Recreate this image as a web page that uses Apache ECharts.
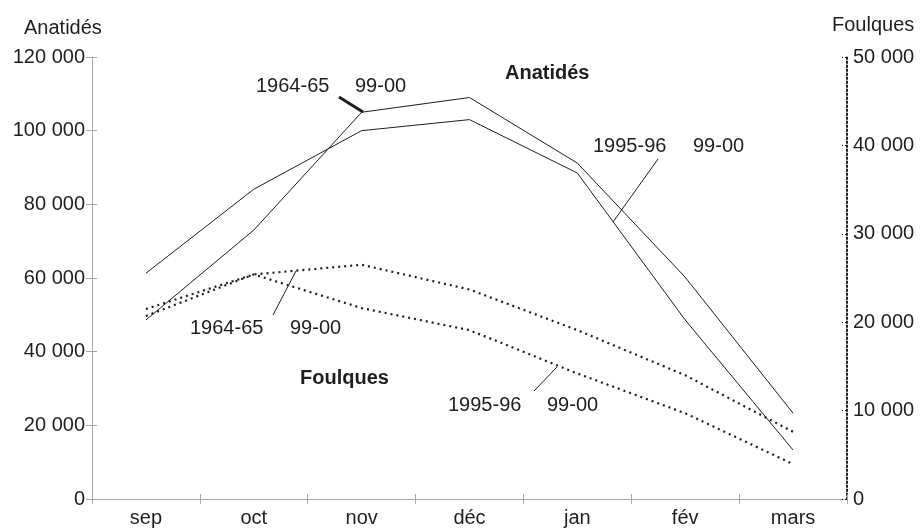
<!DOCTYPE html>
<html>
<head>
<meta charset="utf-8">
<script src="https://cdn.jsdelivr.net/npm/echarts@6/dist/echarts.min.js"></script>
<style>
  body { margin: 0; background: #fff; }
  #chart { width: 922px; height: 531px; }
</style>
</head>
<body>
<div id="chart"></div>
<script>
// mois (saison d'hivernage)
const months = ["sep", "oct", "nov", "déc", "jan", "fév", "mars"];

// Anatidés, axe de gauche
const anat6465 = [48600, 73000, 105000, 109000, 91200, 60200, 23300];
const anat9596 = [61300, 84100, 100000, 103000, 88500, 48600, 13300];

// Foulques, axe de droite
const foul6465 = [21500, 25400, 26500, 23700, 19100, 14000, 7600];
const foul9596 = [20700, 25400, 21600, 19100, 14200, 9700, 3950];

const font = "'Liberation Sans', Arial, sans-serif";
const ink = "#1e1e1e";
const grey = "#a8a8a8";

const fmt = (v) => String(v).replace(/\B(?=(\d{3})+(?!\d))/g, " ");

const chart = echarts.init(document.getElementById("chart"));

function txt(x, y, text, bold) {
  return {
    type: "text",
    x: x,
    y: y,
    style: {
      text: text,
      fill: ink,
      font: (bold ? "bold " : "") + "20px " + font,
      align: "left",
      verticalAlign: "middle",
    },
  };
}

function seg(x1, y1, x2, y2, w) {
  return {
    type: "line",
    shape: { x1: x1, y1: y1, x2: x2, y2: y2 },
    style: { stroke: ink, lineWidth: w || 1 },
  };
}

const option = {
  animation: false,
  backgroundColor: "#fff",
  grid: {
    left: 92,
    right: 75,
    top: 57,
    bottom: 32,
    containLabel: false,
    outerBoundsMode: "none",
  },
  xAxis: [
    {
      type: "category",
      data: months,
      boundaryGap: true,
      position: "bottom",
      axisLine: { onZero: false, lineStyle: { color: grey, width: 1 } },
      axisTick: { show: true, length: 5, lineStyle: { color: grey } },
      axisLabel: { fontSize: 20, color: ink, fontFamily: font, margin: 9 },
      splitLine: { show: false },
    },
    {
      // petits traits vers l'intérieur
      type: "category",
      data: months,
      boundaryGap: true,
      position: "bottom",
      axisLine: { show: false, onZero: false },
      axisTick: { show: true, inside: true, length: 5, lineStyle: { color: grey } },
      axisLabel: { show: false },
      splitLine: { show: false },
    },
  ],
  yAxis: [
    {
      type: "value",
      position: "left",
      min: 0,
      max: 120000,
      interval: 20000,
      axisLine: { show: true, onZero: false, lineStyle: { color: grey } },
      axisTick: { show: true, length: 6, lineStyle: { color: grey } },
      axisLabel: { fontSize: 20, color: ink, fontFamily: font, margin: 7, formatter: fmt },
      splitLine: { show: false },
    },
    {
      type: "value",
      position: "left",
      min: 0,
      max: 120000,
      interval: 20000,
      axisLine: { show: false, onZero: false },
      axisTick: { show: true, inside: true, length: 5, lineStyle: { color: grey } },
      axisLabel: { show: false },
      splitLine: { show: false },
    },
    {
      type: "value",
      position: "right",
      min: 0,
      max: 50000,
      interval: 10000,
      axisLine: { show: true, onZero: false, lineStyle: { color: ink, type: [1.5, 2.5], width: 2 } },
      axisTick: { show: true, inside: true, length: 5, lineStyle: { color: ink, type: [2, 2] } },
      axisLabel: { fontSize: 20, color: ink, fontFamily: font, margin: 6, formatter: fmt },
      splitLine: { show: false },
    },
  ],
  series: [
    {
      name: "Anatidés 1964-65 99-00",
      type: "line",
      data: anat6465,
      yAxisIndex: 0,
      showSymbol: false,
      lineStyle: { color: ink, width: 1 },
    },
    {
      name: "Anatidés 1995-96 99-00",
      type: "line",
      data: anat9596,
      yAxisIndex: 0,
      showSymbol: false,
      lineStyle: { color: ink, width: 1 },
    },
    {
      name: "Foulques 1964-65 99-00",
      type: "line",
      data: foul6465,
      yAxisIndex: 2,
      showSymbol: false,
      lineStyle: { color: ink, width: 2.2, type: [2, 4] },
    },
    {
      name: "Foulques 1995-96 99-00",
      type: "line",
      data: foul9596,
      yAxisIndex: 2,
      showSymbol: false,
      lineStyle: { color: ink, width: 2.2, type: [2, 4] },
    },
  ],
  graphic: [
    // titres des axes
    txt(24, 28, "Anatidés"),
    txt(832, 25, "Foulques"),
    // noms des groupes
    txt(505, 73, "Anatidés", true),
    txt(300, 378, "Foulques", true),
    // étiquettes des courbes
    txt(256, 86, "1964-65"),
    txt(355, 86, "99-00"),
    seg(339, 97, 363, 112, 3),
    txt(593, 146, "1995-96"),
    txt(693, 146, "99-00"),
    seg(658, 159, 613, 222),
    txt(190, 328, "1964-65"),
    txt(290, 328, "99-00"),
    seg(273, 315, 296, 271),
    txt(448, 405, "1995-96"),
    txt(547, 405, "99-00"),
    seg(534, 391, 557, 367),
  ],
};

chart.setOption(option);
</script>
</body>
</html>
